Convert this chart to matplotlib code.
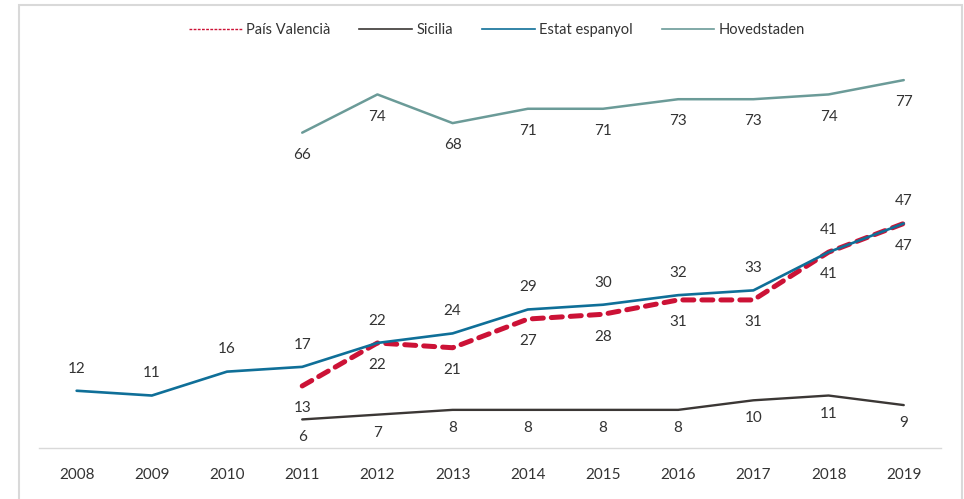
import matplotlib.pyplot as plt
from matplotlib.lines import Line2D
from matplotlib.patches import Rectangle

plt.rcParams['font.family'] = ['Lato', 'DejaVu Sans']

years = [2008, 2009, 2010, 2011, 2012, 2013, 2014, 2015, 2016, 2017, 2018, 2019]
years_b = years[3:]

valencia = [13, 22, 21, 27, 28, 31, 31, 41, 47]
sicilia = [6, 7, 8, 8, 8, 8, 10, 11, 9]
espanyol = [12, 11, 16, 17, 22, 24, 29, 30, 32, 33, 41, 47]
hovedstaden = [66, 74, 68, 71, 71, 73, 73, 74, 77]

c_val = '#cc1236'
c_sic = '#3b3735'
c_esp = '#0f6f98'
c_hov = '#6b9b98'
c_txt = '#333333'

fig = plt.figure(figsize=(9.64, 4.99), dpi=100)
ax = fig.add_axes([0.0405, 0.102, 0.936, 0.862])

ax.plot(years_b, hovedstaden, color=c_hov, lw=1.8, solid_capstyle='round')
ax.plot(years_b, sicilia, color=c_sic, lw=1.7, solid_capstyle='round')
ax.plot(years_b, valencia, color=c_val, lw=3.6, dashes=(2.2, 1.6),
        dash_capstyle='round')
ax.plot(years, espanyol, color=c_esp, lw=1.9, solid_capstyle='round')

def labels(xs, vs, dy):
    for x, v in zip(xs, vs):
        ax.annotate(str(v), (x, v), xytext=(0, dy), textcoords='offset points',
                    ha='center', va='center', fontsize=11, color=c_txt)

labels(years_b, hovedstaden, -16)
labels(years_b, sicilia, -13)
labels(years_b, valencia, -16)
labels(years, espanyol, 16)

ax.set_xlim(2007.5, 2019.5)
ax.set_ylim(0, 90)
ax.set_xticks(years)
ax.set_yticks([])
ax.tick_params(axis='x', length=0, pad=14, labelsize=11, labelcolor=c_txt)
for s in ['left', 'right', 'top']:
    ax.spines[s].set_visible(False)
ax.spines['bottom'].set_color('#d9d9d9')
ax.spines['bottom'].set_linewidth(1.0)

handles = [
    Line2D([], [], color=c_val, lw=1.0, dashes=(2, 1)),
    Line2D([], [], color=c_sic, lw=1.2),
    Line2D([], [], color=c_esp, lw=1.2),
    Line2D([], [], color=c_hov, lw=1.2),
]
names = ['País Valencià', 'Sicilia', 'Estat espanyol', 'Hovedstaden']
fig.legend(handles, names, loc='center', bbox_to_anchor=(497 / 964, 1 - 30 / 499),
           ncol=4, frameon=False, fontsize=10.5, handlelength=3.6,
           handletextpad=0.3, columnspacing=2.0, labelcolor=c_txt)

fig.patches.append(Rectangle((19 / 964, -0.1), (962 - 19) / 964, 1 - 5 / 499 + 0.1,
                             transform=fig.transFigure, fill=False,
                             edgecolor='#d9d9d9', lw=1.5))

fig.savefig('out.png', dpi=100)
